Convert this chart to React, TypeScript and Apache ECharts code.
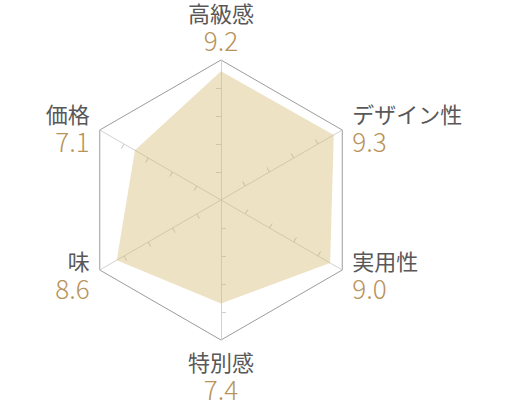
import React, { useEffect, useRef } from 'react';
import * as echarts from 'echarts';

// ECharts lays the indicators out counter-clockwise from the top
const indicatorNames = ['高級感', '価格', '味', '特別感', '実用性', 'デザイン性'];
const scores = [9.2, 7.1, 8.6, 7.4, 9.0, 9.3];
const scoreMax = 10;
const tickValues = [2, 4, 6, 8];

const FONT = '"Noto Sans CJK JP", "Noto Sans", sans-serif';
const CENTER = [221, 200];
const RADIUS = 140;

const App: React.FC = () => {
  const chartRef = useRef<HTMLDivElement>(null);

  useEffect(() => {
    if (!chartRef.current) return;
    const chart = echarts.init(chartRef.current, undefined, { renderer: 'svg' });

    const indicator = indicatorNames.map((name) => ({ name, min: 0, max: scoreMax }));

    // tick-only radars, one per side of the axis, so the ticks cross the axis line
    const tickRadar = (inside: boolean) => ({
      center: CENTER,
      radius: RADIUS,
      startAngle: 90,
      shape: 'polygon',
      splitNumber: 5,
      indicator,
      axisName: { show: false },
      axisLine: { show: false },
      splitLine: { show: false },
      splitArea: { show: false },
      axisTick: {
        show: true,
        inside,
        length: 5,
        customValues: tickValues,
        lineStyle: { color: '#cfcfcf', width: 1 },
      },
    });

    const nameStyle = { fontFamily: FONT, fontSize: 22, color: '#595757', lineHeight: 27 };
    const valueStyle = { fontFamily: FONT, fontSize: 26, fontWeight: 300, color: '#b8935a', lineHeight: 28 };

    chart.setOption({
      animation: false,
      radar: [
        {
          center: CENTER,
          radius: RADIUS,
          startAngle: 90,
          shape: 'polygon',
          splitNumber: 1,
          indicator,
          nameGap: 7,
          axisName: {
            fontFamily: FONT,
            formatter: (name: string) => {
              const i = indicatorNames.indexOf(name);
              // side labels sit a little further out than the top / bottom ones
              const side = i === 1 || i === 2 ? 'l' : i === 4 || i === 5 ? 'r' : '';
              return `{n${side}|${name}}\n{v${side}|${scores[i].toFixed(1)}}`;
            },
            rich: {
              n: nameStyle,
              v: valueStyle,
              nl: { ...nameStyle, padding: [0, 4, 0, 0] },
              vl: { ...valueStyle, padding: [0, 4, 0, 0] },
              nr: { ...nameStyle, padding: [0, 0, 0, 4] },
              vr: { ...valueStyle, padding: [0, 0, 0, 4] },
            },
          },
          axisLine: { lineStyle: { color: '#d2d2d2', width: 1 } },
          axisTick: { show: false },
          splitLine: { lineStyle: { color: '#9c9c9c', width: 1 } },
          splitArea: { show: false },
        },
        tickRadar(false),
        tickRadar(true),
      ],
      series: [
        {
          type: 'radar',
          radarIndex: 0,
          symbol: 'none',
          lineStyle: { width: 0 },
          areaStyle: { color: 'rgba(212,186,115,0.6)' },
          data: [{ value: scores, name: 'score' }],
        },
      ],
    });

    return () => {
      chart.dispose();
    };
  }, []);

  return (
    <div
      ref={chartRef}
      style={{ position: 'absolute', left: 0, top: 0, width: 510, height: 400 }}
    />
  );
};

export default App;
